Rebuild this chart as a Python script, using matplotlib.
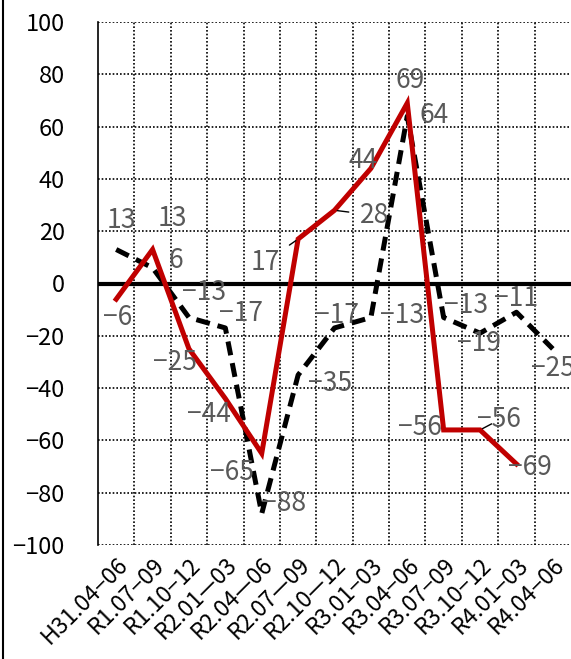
import matplotlib.pyplot as plt
import numpy as np
from matplotlib.lines import Line2D

plt.rcParams['font.family'] = ['Noto Sans CJK JP', 'DejaVu Sans']

# quarters (Japanese fiscal periods)
periods = ['H31.04−06', 'R1.07−09', 'R1.10−12', 'R2.01—03', 'R2.04—06',
           'R2.07—09', 'R2.10—12', 'R3.01−03', 'R3.04−06', 'R3.07−09',
           'R3.10−12', 'R4.01−03', 'R4.04−06']

# red solid series (last period missing)
red_vals = [-6, 13, -25, -44, -65, 17, 28, 44, 69, -56, -56, -69]
# black dashed series
black_vals = [13, 6, -13, -17, -88, -35, -17, -13, 64, -13, -19, -11, -25]

y_ticks = [100, 80, 60, 40, 20, 0, -20, -40, -60, -80, -100]

# label offsets in pixels (dx, dy) for each point
red_off = [(1, -18), (20, 31), (-14, -14), (-16, -16), (-30, -19), (-33, -23),
           (40, -5), (-8, 8), (3, 23), (-24, 2), (19, 10), (13, -4)]
black_off = [(5, 29), (23, 7), (15, 25), (16, 14), (22, 10), (32, -8),
             (3, 12), (31, 2), (27, 1), (22, 12), (-1, -10), (0, 14), (0, -20)]
red_lead = {5, 6, 10}

fig = plt.figure(figsize=(5.71, 6.59), dpi=100)
ax = fig.add_axes([98 / 571, 114 / 659, 473 / 571, 523 / 659])

x_red = np.arange(len(red_vals))
x_black = np.arange(len(black_vals))

ax.plot(x_black, black_vals, color='black', lw=3.6, linestyle=(0, (2.8, 1.6)), zorder=4)
ax.plot(x_red, red_vals, color='#C00000', lw=3.6, solid_joinstyle='miter', zorder=5)

lab_kw = dict(textcoords='offset pixels', ha='center', va='center',
              fontsize=19, color='#595959', zorder=6)
for i, v in enumerate(black_vals):
    ax.annotate(f'{v}'.replace('-', '−'), (x_black[i], v), xytext=black_off[i], **lab_kw)
for i, v in enumerate(red_vals):
    ap = dict(arrowstyle='-', color='black', lw=1, shrinkA=6, shrinkB=2) if i in red_lead else None
    ax.annotate(f'{v}'.replace('-', '−'), (x_red[i], v), xytext=red_off[i],
                arrowprops=ap, **lab_kw)

ax.axhline(0, color='black', lw=3, zorder=3)

ax.set_xlim(-0.5, len(periods) - 0.5)
ax.set_ylim(-100, 100)
ax.set_yticks(y_ticks)
ax.set_yticklabels([str(t).replace('-', '−') for t in y_ticks], fontsize=17)
ax.set_xticks(np.arange(len(periods)))
ax.set_xticklabels(periods, fontsize=16.5, rotation=45, ha='right', rotation_mode='anchor')
ax.tick_params(axis='y', length=0, pad=24)
ax.tick_params(axis='x', length=0, pad=6)

# dotted grid: horizontal at ticks, vertical at category boundaries
for t in y_ticks:
    ax.axhline(t, color='black', lw=1.2, linestyle=(0, (1, 1.2)), zorder=1)
for b in np.arange(0.5, len(periods) - 0.5, 1):
    ax.axvline(b, color='black', lw=1.2, linestyle=(0, (1, 1.2)), zorder=1)

for s in ['top', 'right', 'bottom']:
    ax.spines[s].set_visible(False)
ax.spines['left'].set_linewidth(1.2)

fig.add_artist(Line2D([3 / 571, 3 / 571], [0, 1], color='black', lw=1.5))

plt.savefig('out.png', dpi=100)
